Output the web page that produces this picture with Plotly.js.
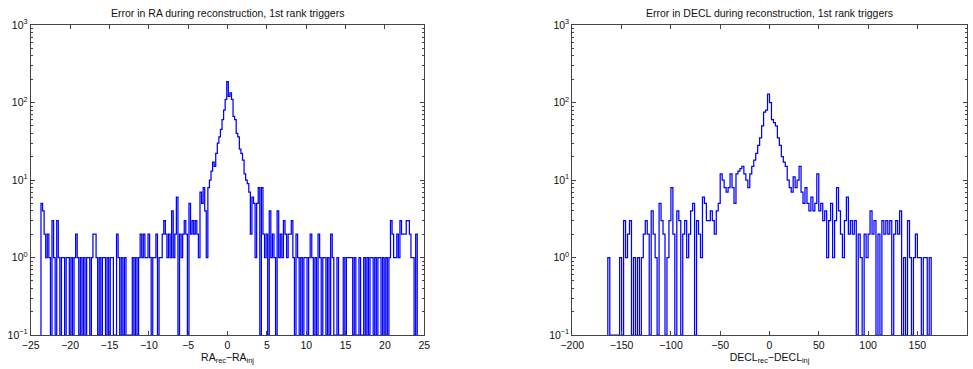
<!DOCTYPE html>
<html>
<head>
<meta charset="utf-8">
<script src="https://cdn.plot.ly/plotly-3.0.1.min.js"></script>
<style>html,body{margin:0;padding:0;background:#fff;}#chart{width:973px;height:369px;}</style>
</head>
<body>
<div id="chart"></div>
<script>
// ---- data: histogram counts ----
const raBinStart = -23.7;
const raBinWidth = 0.2;
const raCounts = [
  5,4,2,1,2,1,0,3,1,0,
  3,1,0,1,1,0,1,1,0,1,
  0,1,2,1,0,1,0,1,0,1,
  1,0,1,2,2,1,0,1,0,1,
  1,0,1,0,1,1,0,0,2,1,
  0,1,0,1,0,0,0,0,1,0,
  1,0,1,2,1,2,1,1,2,1,
  0,1,1,2,0,1,1,2,3,2,
  1,2,1,4,1,2,6,0,2,1,
  2,3,2,0,5,2,3,2,3,2,
  1,7,5,8,4,1,8,10,13,17,
  15,22,30,36,45,60,80,110,186,120,
  133,110,66,60,40,36,25,22,18,12,
  10,9,7,2,6,5,1,5,8,0,
  8,2,1,2,0,4,1,2,1,0,
  4,1,2,1,3,2,1,2,2,3,
  1,0,2,1,0,1,0,1,1,0,
  1,2,1,0,1,0,2,1,0,1,
  1,0,1,0,2,1,0,0,1,0,
  0,0,1,0,1,1,1,1,0,1,
  0,0,1,0,0,1,0,1,0,1,
  1,0,1,0,1,1,0,1,0,1,
  0,1,3,2,1,1,2,1,3,2,
  2,2,3,3,2,1,1,0,2
];
const declBinStart = -164;
const declBinWidth = 2;
const declCounts = [
  1,0,0,0,0,0,1,0,3,1,
  2,3,0,1,0,1,0,1,2,3,
  2,0,4,2,1,0,5,3,2,0,
  1,3,8,2,0,4,3,0,2,3,
  1,2,4,5,0,3,2,1,6,5,
  3,3,4,3,2,4,5,12,10,8,
  7,8,12,8,5,12,13,14,15,12,
  10,8,12,15,18,22,28,35,50,75,
  80,128,100,60,55,50,35,28,20,17,
  15,10,8,7,11,8,10,15,7,5,
  8,5,4,6,4,5,12,4,5,3,
  4,1,3,5,1,3,8,4,2,1,
  3,6,2,3,2,3,0,2,1,0,
  2,1,2,4,2,3,0,2,0,3,
  2,3,2,3,0,2,3,2,4,0,
  1,0,3,1,0,1,2,1,1,0,
  1,1,0,1
];
const titles = ["Error in RA during reconstruction, 1st rank triggers",
                "Error in DECL during reconstruction, 1st rank triggers"];
const xLabels = ["RA<sub>rec</sub>\u2212RA<sub>inj</sub>",
                 "DECL<sub>rec</sub>\u2212DECL<sub>inj</sub>"];
const yTickVals = [0.1, 1, 10, 100, 1000];
const yTickText = ["10<sup>\u22121</sup>", "10<sup>0</sup>", "10<sup>1</sup>", "10<sup>2</sup>", "10<sup>3</sup>"];

// ---- build stair traces ----
const FLOOR = 0.1; // empty bins drawn down to the axis floor (log scale)
function stairs(counts, start, width, xa, ya) {
  const x = [start], y = [FLOOR];
  counts.forEach((c, i) => { x.push(start + i * width); y.push(c > 0 ? c : FLOOR); });
  const end = start + counts.length * width;
  x.push(end); y.push(counts[counts.length - 1] > 0 ? counts[counts.length - 1] : FLOOR);
  x.push(end); y.push(FLOOR);
  return { x, y, xaxis: xa, yaxis: ya, type: 'scatter', mode: 'lines',
           line: { shape: 'hv', color: 'rgb(0,0,255)', width: 1.25 }, hoverinfo: 'skip', showlegend: false };
}
const traces = [
  stairs(raCounts, raBinStart, raBinWidth, 'x', 'y'),
  stairs(declCounts, declBinStart, declBinWidth, 'x2', 'y2')
];

const minorVals = [];
for (let e = -1; e < 3; e++) for (let m = 2; m <= 9; m++) minorVals.push(m * Math.pow(10, e));

const FONT = { family: 'Liberation Sans, Arial, Helvetica, sans-serif', size: 10.5, color: '#111' };
function xAxis(domain, range, dtick, label, anchor) {
  return { domain, range, dtick, tick0: 0, anchor, ticks: 'inside', ticklen: 4, tickcolor: '#444',
           showline: true, linecolor: '#444', linewidth: 1, mirror: 'ticks', showgrid: false, zeroline: false,
           tickfont: FONT, title: { text: label, font: FONT, standoff: 0 } };
}
function yAxis(anchor) {
  return { type: 'log', domain: [0.0921, 0.9322], range: [-1, 3], anchor,
           tickmode: 'array', tickvals: yTickVals, ticktext: yTickText,
           ticks: 'inside', ticklen: 4, tickcolor: '#444',
           minor: { tickmode: 'array', tickvals: minorVals, ticks: 'inside', ticklen: 2, tickcolor: '#444' },
           showline: true, linecolor: '#444', linewidth: 1, mirror: 'ticks', showgrid: false, zeroline: false,
           tickfont: FONT };
}

const layout = {
  width: 973, height: 369,
  margin: { l: 0, r: 0, t: 0, b: 0 },
  paper_bgcolor: '#fff', plot_bgcolor: '#fff',
  font: FONT,
  xaxis: xAxis([0.0316, 0.4361], [-25, 25], 5, xLabels[0], 'y'),
  yaxis: yAxis('x'),
  xaxis2: xAxis([0.5882, 0.9935], [-200, 200], 50, xLabels[1], 'y2'),
  yaxis2: yAxis('x2'),
  annotations: [
    { text: titles[0], xref: 'paper', yref: 'paper', x: (0.0316 + 0.4361) / 2, y: 0.965, xanchor: 'center', yanchor: 'middle', showarrow: false, font: FONT },
    { text: titles[1], xref: 'paper', yref: 'paper', x: (0.5882 + 0.9935) / 2, y: 0.965, xanchor: 'center', yanchor: 'middle', showarrow: false, font: FONT }
  ]
};
Plotly.newPlot('chart', traces, layout, { staticPlot: true, displayModeBar: false });
</script>
</body>
</html>
